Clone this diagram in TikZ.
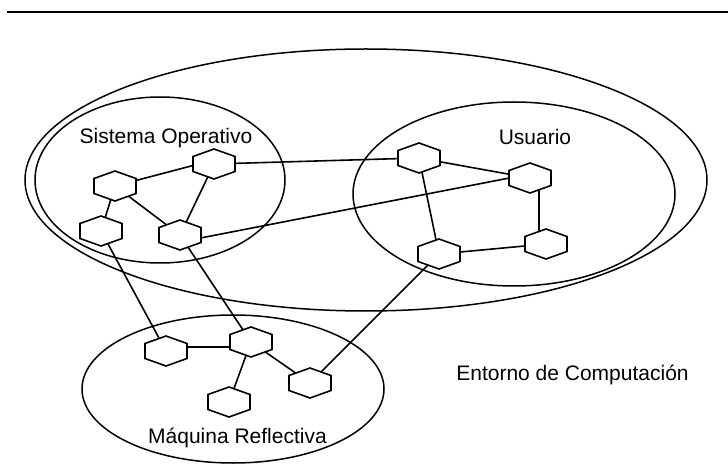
\documentclass[tikz,border=0pt]{standalone}
\usepackage{fontspec}
\setmainfont{Liberation Sans}
\usetikzlibrary{shapes.geometric, backgrounds}

\tikzset{
  stroke/.style={line width=1.6pt},
  hexcell/.style={stroke, draw, fill=white, regular polygon, regular polygon sides=6,
    shape border rotate=30, minimum size=30pt, inner sep=0pt, outer sep=0pt, xscale=1.615},
  link/.style={stroke},
  region/.style={line width=1.5pt},
  caption/.style={anchor=base, inner sep=0pt, font=\fontsize{21}{25}\selectfont},
}

\begin{document}
\begin{tikzpicture}[x=1pt, y=-1pt]
  \useasboundingbox (0,0) rectangle (728,470);

  % rule across the top
  \draw[line width=1.7pt] (7,12) -- (728,12);

  % regions
  \draw[region] (366,180) ellipse [x radius=341, y radius=131];
  \draw[region] (160,180) ellipse [x radius=125, y radius=83];
  \draw[region] (514,194) ellipse [x radius=161, y radius=92];
  \draw[region] (233,389) ellipse [x radius=151, y radius=74];

  % region captions
  \node[caption] (capso) at (166,144) {Sistema Operativo};
  \node[caption] (capus) at (535,145) {Usuario};
  \node[caption] (capmr) at (237.5,443) {Máquina Reflectiva};
  \node[caption] (capenv) at (572.5,380) {Entorno de Computación};

  % operating system cells
  \node[hexcell] (h1) at (214,164) {};
  \node[hexcell] (h2) at (115,186) {};
  \node[hexcell] (h3) at (101,231) {};
  \node[hexcell] (h4) at (180,235) {};

  % user cells
  \node[hexcell] (u1) at (419,158) {};
  \node[hexcell] (u2) at (530,178) {};
  \node[hexcell] (u3) at (439,254) {};
  \node[hexcell] (u4) at (546,244) {};

  % reflective machine cells
  \node[hexcell] (m1) at (166,351) {};
  \node[hexcell] (m2) at (251,342) {};
  \node[hexcell] (m3) at (310,383) {};
  \node[hexcell] (m4) at (229,402) {};

  % links run behind the cells, which are filled white
  \begin{pgfonlayer}{background}
    \draw[link] (h2.center) -- ([yshift=4pt]h1.center);
    \draw[link] (h2.center) -- (h3.center);
    \draw[link] (h2.center) -- (h4.center);
    \draw[link] (h1.center) -- (h4.center);
    \draw[link] (h1.center) -- (u1.center);
    \draw[link] ([yshift=-7pt]h4.center) -- ([yshift=4pt]u2.center);
    \draw[link] (u1.center) -- (u2.center);
    \draw[link] (u1.center) -- (u3.center);
    \draw[link] ([xshift=9pt]u2.center) -- ([xshift=-7pt]u4.center);
    \draw[link] (u3.center) -- (u4.center);
    \draw[link] (h3.center) -- (m1.center);
    \draw[link] (h4.center) -- (m2.center);
    \draw[link] ([yshift=4pt]m1.center) -- ([yshift=-5pt]m2.center);
    \draw[link] (m2.center) -- (m4.center);
    \draw[link] (m2.center) -- (m3.center);
    \draw[link] (m3.center) -- (u3.center);
  \end{pgfonlayer}
\end{tikzpicture}
\end{document}
